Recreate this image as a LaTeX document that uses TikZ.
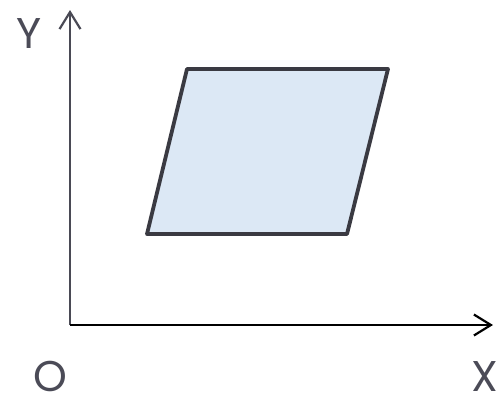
\documentclass[tikz,border=0pt]{standalone}
\usepackage{fontspec}
\setmainfont{Poppins}
\usetikzlibrary{arrows.meta}
\definecolor{axisgray}{HTML}{4A4A55}
\definecolor{labelgray}{HTML}{4B4B57}
\definecolor{shapefill}{HTML}{DCE8F5}
\definecolor{shapeedge}{HTML}{3A3A42}
\tikzset{
  axisline/.style={line width=2.2pt, -{Straight Barb[length=17pt,width=21pt,line width=2.2pt]}},
  axislabel/.style={text=labelgray, font=\fontsize{43}{43}\selectfont, inner sep=0pt, text depth=0pt, anchor=base},
  para/.style={draw=shapeedge, fill=shapefill, line width=3.8pt, line join=round}
}
\begin{document}
\begin{tikzpicture}[x=1pt,y=-1pt]
\useasboundingbox (0,0) rectangle (501,399);
\coordinate (o) at (70,325);
\coordinate (ytip) at (70,10);
\coordinate (xtip) at (493,325);
\draw[axisline, draw=axisgray] (o) -- (ytip);
\draw[axisline, draw=black] (o) -- (xtip);
\node[axislabel] (ylab) at (29,48) {Y};
\node[axislabel] (olab) at (50,391) {O};
\node[axislabel] (xlab) at (485,391) {X};
\coordinate (a) at (187,69);
\coordinate (b) at (388,69);
\coordinate (c) at (347,234);
\coordinate (d) at (147,234);
\draw[para] (a) -- (b) -- (c) -- (d) -- cycle;
\end{tikzpicture}
\end{document}
